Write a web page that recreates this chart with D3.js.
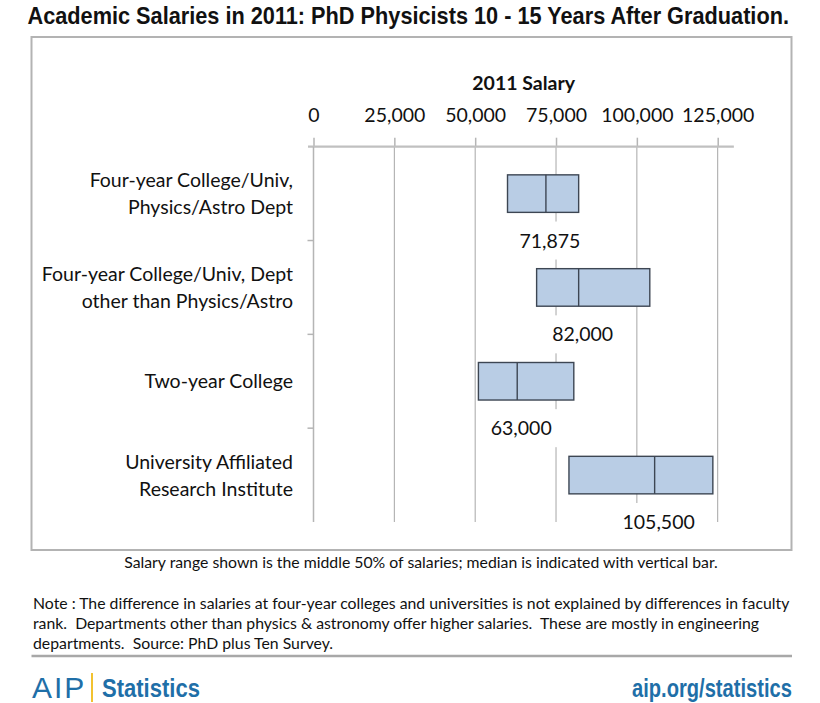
<!DOCTYPE html>
<html><head><meta charset="utf-8">
<script src="https://cdn.jsdelivr.net/npm/d3@7"></script>
<style>
html,body{margin:0;padding:0;background:#fff;}
svg{display:block;}
</style></head>
<body>
<svg id="chart" width="820" height="703"></svg>
<script>
const categories = [
  ["Four-year College/Univ,", "Physics/Astro Dept"],
  ["Four-year College/Univ, Dept", "other than Physics/Astro"],
  ["Two-year College"],
  ["University Affiliated", "Research Institute"]
];
const q1Values = [60000, 69000, 51000, 79000];
const medianValues = [71875, 82000, 63000, 105500];
const q3Values = [82000, 104000, 80500, 123500];
const tickValues = [0, 25000, 50000, 75000, 100000, 125000];

const svg = d3.select("#chart");
const bodyFont = "Lato, 'Open Sans', sans-serif";
const sansFont = "'Liberation Sans', Arial, sans-serif";
const fmt = d3.format(",");

// helper: text squeezed horizontally to a target width (emulates a narrow face)
function narrowText(parent, str, x0, y0, target, anchor, attrs) {
  const gg = parent.append("g");
  const t = gg.append("text").attr("x", 0).attr("y", 0).text(str);
  Object.entries(attrs).forEach(([k, v]) => t.attr(k, v));
  const w = t.node().getComputedTextLength();
  const s = target / w;
  const left = anchor === "end" ? x0 - target : anchor === "middle" ? x0 - target / 2 : x0;
  gg.attr("transform", `translate(${left},${y0}) scale(${s},1)`);
  return gg;
}

// Title
narrowText(svg, "Academic Salaries in 2011: PhD Physicists 10 - 15 Years After Graduation.",
  408.5, 24, 762, "middle",
  {"font-family": sansFont, "font-weight": "bold", "font-size": 24, "fill": "#111"});

// Chart frame
svg.append("rect").attr("x", 31.5).attr("y", 37).attr("width", 760).attr("height", 513)
  .attr("fill", "#fff").attr("stroke", "#b3b3b3").attr("stroke-width", 2);

const x = d3.scaleLinear().domain([0, 125000]).range([313.5, 717.7]);
const idx = d3.range(categories.length);
const y = d3.scaleBand().domain(idx).range([146.7, 522]).padding(0);
const bw = y.bandwidth();
const boxH = bw * 0.4;

const g = svg.append("g");

// gridlines
g.selectAll("line.grid").data(tickValues.filter(d => d > 0)).join("line")
  .attr("class", "grid")
  .attr("x1", d => x(d)).attr("x2", d => x(d))
  .attr("y1", y.range()[0]).attr("y2", y.range()[1])
  .attr("stroke", "#a6a6a6").attr("stroke-width", 1);

// top axis
const xAxis = d3.axisTop(x).tickValues(tickValues).tickSize(9).tickSizeOuter(0).tickFormat(fmt);
const ax = g.append("g").attr("transform", `translate(0,${y.range()[0]})`).call(xAxis);
ax.select(".domain").remove();
ax.selectAll(".tick line").attr("stroke", "#b5b5b5").attr("stroke-width", 1.5);
ax.selectAll(".tick text").attr("font-family", bodyFont).attr("font-size", 19.5)
  .attr("fill", "#111").attr("dy", 0).attr("y", -25);
g.append("line").attr("x1", x(-1700)).attr("x2", x(130000))
  .attr("y1", y.range()[0]).attr("y2", y.range()[0])
  .attr("stroke", "#c0c0c0").attr("stroke-width", 2.2);

// axis title
g.append("text").attr("x", x(65000)).attr("y", 90).attr("text-anchor", "middle")
  .attr("font-family", bodyFont).attr("font-weight", "bold").attr("font-size", 19.5)
  .attr("fill", "#111").text("2011 Salary");

// vertical category axis
g.append("line").attr("x1", x(0)).attr("x2", x(0))
  .attr("y1", y.range()[0]).attr("y2", y.range()[1])
  .attr("stroke", "#b5b5b5").attr("stroke-width", 1.5);
g.selectAll("line.ctick").data(idx.slice(1)).join("line").attr("class", "ctick")
  .attr("x1", x(0) - 6).attr("x2", x(0))
  .attr("y1", d => y(d)).attr("y2", d => y(d))
  .attr("stroke", "#b5b5b5").attr("stroke-width", 1.5);

// category labels
const lineH = 27;
idx.forEach(i => {
  const lines = categories[i];
  const cy = y(i) + bw / 2;
  const t = g.append("text").attr("text-anchor", "end")
    .attr("font-family", bodyFont).attr("font-size", 19.5).attr("fill", "#111");
  lines.forEach((ln, k) => {
    t.append("tspan").attr("x", 293)
      .attr("y", cy + (k - (lines.length - 1) / 2) * lineH + 7)
      .text(ln);
  });
});

// boxes
g.selectAll("rect.box").data(idx).join("rect").attr("class", "box")
  .attr("x", i => x(q1Values[i])).attr("width", i => x(q3Values[i]) - x(q1Values[i]))
  .attr("y", i => y(i) + (bw - boxH) / 2).attr("height", boxH)
  .attr("fill", "#b9cde5").attr("stroke", "#3d4653").attr("stroke-width", 1.4);
g.selectAll("line.med").data(idx).join("line").attr("class", "med")
  .attr("x1", i => x(medianValues[i])).attr("x2", i => x(medianValues[i]))
  .attr("y1", i => y(i) + (bw - boxH) / 2).attr("y2", i => y(i) + (bw + boxH) / 2)
  .attr("stroke", "#3d4653").attr("stroke-width", 1.4);

// median labels with white background
idx.forEach(i => {
  const cx = x(medianValues[i]) + 4;
  const cy = y(i) + bw;
  const t = g.append("text").attr("x", cx).attr("y", cy + 7).attr("text-anchor", "middle")
    .attr("font-family", bodyFont).attr("font-size", 19.5).attr("fill", "#111")
    .text(fmt(medianValues[i]));
  const bb = t.node().getBBox();
  g.insert("rect", () => t.node())
    .attr("x", bb.x - 6).attr("y", cy - 19).attr("width", bb.width + 12).attr("height", 38)
    .attr("fill", "#fff");
});

// footnotes
svg.append("text").attr("x", 421).attr("y", 568).attr("text-anchor", "middle")
  .attr("font-family", bodyFont).attr("font-size", 15.8).attr("fill", "#111")
  .text("Salary range shown is the middle 50% of salaries; median is indicated with vertical bar.");

const noteLines = [
  "Note : The difference in salaries at four-year colleges and universities is not explained by differences in faculty",
  "rank.  Departments other than physics & astronomy offer higher salaries.  These are mostly in engineering",
  "departments.  Source: PhD plus Ten Survey."
];
svg.append("g").selectAll("text").data(noteLines).join("text")
  .attr("x", 33).attr("y", (d, i) => 609 + i * 20)
  .attr("font-family", bodyFont).attr("font-size", 15.8).attr("fill", "#111")
  .attr("xml:space", "preserve").style("white-space", "pre")
  .text(d => d);

// footer rule
svg.append("line").attr("x1", 31.5).attr("x2", 792).attr("y1", 656).attr("y2", 656)
  .attr("stroke", "#a8a8a8").attr("stroke-width", 2.5);

// logo
const blue = "#1f6fa8";
svg.append("text").attr("x", 32).attr("y", 698)
  .attr("font-family", sansFont).attr("font-size", 30).attr("fill", blue)
  .attr("letter-spacing", 2).text("AIP");
svg.append("line").attr("x1", 92).attr("x2", 92).attr("y1", 673).attr("y2", 702)
  .attr("stroke", "#f2c230").attr("stroke-width", 2);
narrowText(svg, "Statistics", 102, 697, 98, "start",
  {"font-family": sansFont, "font-weight": "bold", "font-size": 25, "fill": blue});
narrowText(svg, "aip.org/statistics", 792, 697, 160, "end",
  {"font-family": sansFont, "font-weight": "bold", "font-size": 25, "fill": blue});
</script>
</body></html>
